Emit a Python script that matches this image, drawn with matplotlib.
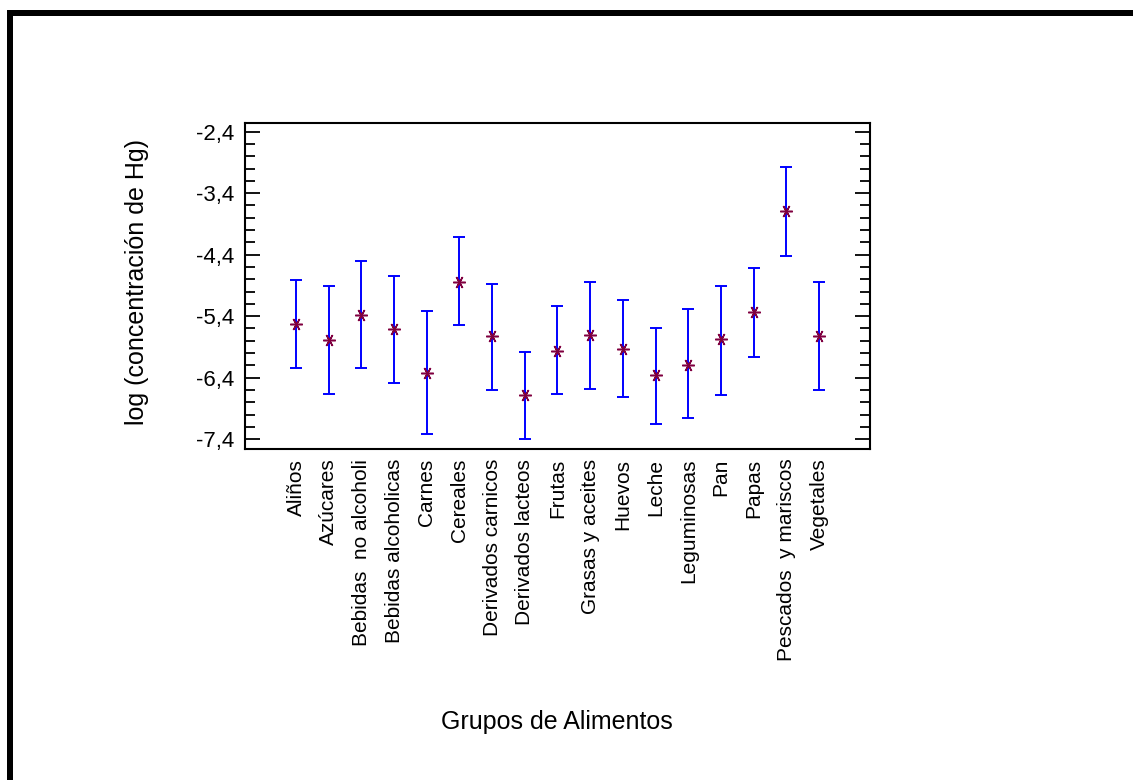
import matplotlib.pyplot as plt
import numpy as np
from matplotlib.patches import Rectangle
from matplotlib.ticker import MultipleLocator, FuncFormatter

plt.rcParams["font.family"] = ["Liberation Sans", "DejaVu Sans"]

grupos = ["Aliños", "Azúcares", "Bebidas  no alcoholi", "Bebidas alcoholicas",
          "Carnes", "Cereales", "Derivados carnicos", "Derivados lacteos",
          "Frutas", "Grasas y aceites", "Huevos", "Leche", "Leguminosas",
          "Pan", "Papas", "Pescados  y mariscos", "Vegetales"]
medias = [-5.53, -5.79, -5.38, -5.61, -6.33, -4.84, -5.73, -6.68, -5.96,
          -5.71, -5.93, -6.36, -6.19, -5.78, -5.34, -3.69, -5.73]
limite_sup = [-4.82, -4.91, -4.50, -4.74, -5.31, -4.12, -4.87, -5.99, -5.24,
              -4.84, -5.14, -5.59, -5.29, -4.91, -4.61, -2.97, -4.84]
limite_inf = [-6.25, -6.66, -6.25, -6.48, -7.32, -5.54, -6.60, -7.40, -6.66,
              -6.58, -6.71, -7.15, -7.05, -6.68, -6.06, -4.42, -6.60]

medias = np.array(medias)
err = [medias - np.array(limite_inf), np.array(limite_sup) - medias]
x = np.arange(len(grupos))

fig = plt.figure(figsize=(11.33, 7.8), dpi=100)
ax = fig.add_axes([0.2162, 0.4244, 0.5517, 0.4179])

ax.errorbar(x, medias, yerr=err, fmt="none", ecolor="#0000ff",
            elinewidth=1.4, capsize=4, capthick=1.4)
ax.plot(x, medias, linestyle="none", marker=(6, 2, 90), markersize=9,
        markeredgecolor="#800040", markeredgewidth=1.1, color="#800040")

ax.set_xlim(-1.56, 17.56)
ax.set_ylim(-7.56, -2.26)
ax.set_xticks(x)
ax.set_xticklabels(grupos, rotation=90, fontsize=15)
ax.tick_params(axis="x", length=0, pad=7)

ax.yaxis.set_major_locator(MultipleLocator(1.0, offset=0.6))
ax.yaxis.set_minor_locator(MultipleLocator(0.2))
ax.yaxis.set_major_formatter(FuncFormatter(lambda v, p: f"{v:.1f}".replace(".", ",")))
ax.tick_params(axis="y", which="both", direction="in", right=True,
               labelsize=16, width=1.3, pad=8)
ax.tick_params(axis="y", which="major", length=11)
ax.tick_params(axis="y", which="minor", length=7)

for sp in ax.spines.values():
    sp.set_linewidth(1.5)

fig.text(137 / 1133, 1 - 282 / 780, "log (concentración de Hg)", rotation=90,
         ha="center", va="center", fontsize=18)
fig.text(557 / 1133, 1 - 722 / 780, "Grupos de Alimentos",
         ha="center", va="center", fontsize=18)

# marco negro arriba e izquierda
fig.add_artist(Rectangle((7 / 1133, 0), 6 / 1133, 1 - 10 / 780,
                         transform=fig.transFigure, color="black", lw=0))
fig.add_artist(Rectangle((7 / 1133, 1 - 16 / 780), 1, 6 / 780,
                         transform=fig.transFigure, color="black", lw=0))

fig.savefig("out.png", dpi=100)
